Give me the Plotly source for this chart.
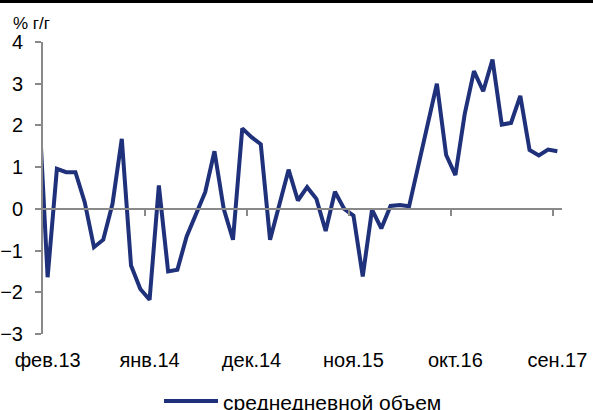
import plotly.graph_objects as go

# Monthly categories (jan.13 is only partly visible at the left edge in the original)
months = ["янв.13", "фев.13", "мар.13", "апр.13", "май.13", "июн.13", "июл.13", "авг.13", "сен.13", "окт.13", "ноя.13", "дек.13",
          "янв.14", "фев.14", "мар.14", "апр.14", "май.14", "июн.14", "июл.14", "авг.14", "сен.14", "окт.14", "ноя.14", "дек.14",
          "янв.15", "фев.15", "мар.15", "апр.15", "май.15", "июн.15", "июл.15", "авг.15", "сен.15", "окт.15", "ноя.15", "дек.15",
          "янв.16", "фев.16", "мар.16", "апр.16", "май.16", "июн.16", "июл.16", "авг.16", "сен.16", "окт.16", "ноя.16", "дек.16",
          "янв.17", "фев.17", "мар.17", "апр.17", "май.17", "июн.17", "июл.17", "авг.17", "сен.17"]

values = [2.7, -1.64, 0.96, 0.88, 0.88, 0.16, -0.92, -0.74, 0.12, 1.68, -1.36, -1.92,
          -2.18, 0.56, -1.50, -1.46, -0.66, -0.15, 0.40, 1.38, 0.0, -0.74, 1.93, 1.72,
          1.55, -0.74, 0.10, 0.94, 0.20, 0.52, 0.24, -0.53, 0.41, 0.0, -0.16, -1.62,
          -0.02, -0.47, 0.07, 0.09, 0.06, 1.05, 2.0, 3.0, 1.29, 0.81, 2.27, 3.3,
          2.82, 3.58, 2.02, 2.06, 2.71, 1.41, 1.28, 1.42, 1.38]

y_ticks = [-3, -2, -1, 0, 1, 2, 3, 4]
label_every = 11
series_name = "среднедневной объем"
y_title = "% г/г"

# position index: фев.13 -> 0
xs = [i - 1 for i in range(len(months))]
label_pos = [p for p in xs if p >= 0 and p % label_every == 0]
label_txt = [months[p + 1] for p in label_pos]
tick_pos = [p - 0.5 for p in label_pos if p > 0]  # boundaries before each labelled month

FONT = "Arial, 'Liberation Sans', sans-serif"
GRAY = "#898989"
LINE = "#1f317a"
FS = 20

fig = go.Figure()
fig.add_trace(go.Scatter(x=xs, y=values, mode="lines", name=series_name,
                         line=dict(color=LINE, width=4), showlegend=False))
# empty helper trace so the zero-crossing category axis (x2) is drawn
fig.add_trace(go.Scatter(x=[None], y=[None], xaxis="x2", yaxis="y", mode="lines",
                         showlegend=False, hoverinfo="skip"))

W, H = 593, 410
L, R, T, B = 43, 31, 42, 76
pw, ph = W - L - R, H - T - B

def px_to_paper_x(px):
    return (px - L) / pw

def px_to_paper_y(py):
    return (H - B - py) / ph

fig.update_layout(
    width=W, height=H,
    margin=dict(l=L, r=R, t=T, b=B, pad=0),
    paper_bgcolor="white", plot_bgcolor="white",
    font=dict(family=FONT, size=FS, color="black"),
    showlegend=False,
    xaxis=dict(range=[-0.5, 55.5], showgrid=False, zeroline=False, showline=False,
               tickmode="array", tickvals=label_pos, ticktext=label_txt, ticks="",
               ticklabelstandoff=12, tickfont=dict(size=FS), automargin=False),
    xaxis2=dict(range=[-0.5, 55.5], overlaying="x", anchor="free", position=3 / 7,
                showgrid=False, zeroline=False, showline=True, linecolor=GRAY, linewidth=2,
                tickmode="array", tickvals=tick_pos, ticks="outside", ticklen=6,
                tickcolor=GRAY, tickwidth=2, showticklabels=False, automargin=False),
    yaxis=dict(range=[-3, 4], showgrid=False, zeroline=False, showline=True,
               linecolor=GRAY, linewidth=2, ticks="outside", ticklen=6,
               tickcolor=GRAY, tickwidth=2, tickmode="array", tickvals=y_ticks,
               ticklabelstandoff=8, tickfont=dict(size=FS), automargin=False),
)

# y-axis unit label
fig.add_annotation(text=y_title, xref="paper", yref="paper",
                   x=px_to_paper_x(11), y=px_to_paper_y(23), xanchor="left", yanchor="middle",
                   showarrow=False, font=dict(size=17, family=FONT, color="black"))

# top black rule
fig.add_shape(type="rect", xref="paper", yref="paper", layer="above",
              x0=px_to_paper_x(0), x1=px_to_paper_x(W), y0=px_to_paper_y(0), y1=px_to_paper_y(3),
              fillcolor="black", line=dict(width=0))

# legend (drawn manually to match long line sample)
fig.add_shape(type="line", xref="paper", yref="paper",
              x0=px_to_paper_x(164), x1=px_to_paper_x(218), y0=px_to_paper_y(401), y1=px_to_paper_y(401),
              line=dict(color=LINE, width=4))
fig.add_annotation(text=series_name, xref="paper", yref="paper",
                   x=px_to_paper_x(221), y=px_to_paper_y(402), xanchor="left", yanchor="middle",
                   showarrow=False, font=dict(size=21, family=FONT, color="black"))

fig.write_html("out.html", config={"displayModeBar": False},
               post_script="document.body.style.margin='0';document.body.style.padding='0';")
